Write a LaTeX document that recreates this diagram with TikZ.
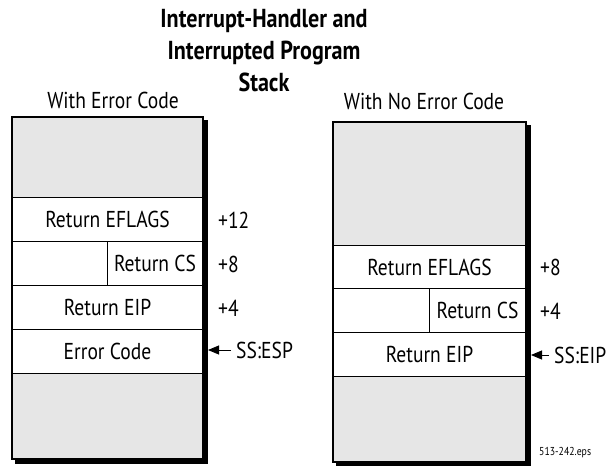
\documentclass[tikz,border=0pt]{standalone}
\usepackage{fontspec}
\setmainfont{PT Sans}[FakeStretch=0.85]
\usetikzlibrary{arrows.meta}
\definecolor{stackgray}{HTML}{E6E6E6}
\tikzset{
  stackframe/.style={draw=black, line width=1.6pt, fill=stackgray, anchor=north west,
    inner sep=0pt, outer sep=0pt},
  shadowline/.style={draw=black, line width=4pt, line cap=rect},
  cell/.style={draw=black, line width=0.8pt, fill=white, anchor=north west,
    inner sep=0pt, outer sep=0pt, minimum height=44pt, font=\fontsize{23}{26}\selectfont},
  lbl/.style={anchor=west, inner sep=0pt, font=\fontsize{23}{26}\selectfont},
  hdr/.style={inner sep=0pt, font=\fontsize{23}{26}\selectfont},
  ptr/.style={line width=0.9pt, -{Triangle[length=11pt,width=9pt]}},
}
\begin{document}
\begin{tikzpicture}[x=1pt,y=-1pt]
\useasboundingbox (0,0) rectangle (616,466);
% title
\node[align=center, inner sep=0pt, font=\bfseries\fontsize{26}{32}\selectfont] (title) at (264,51)
  {Interrupt-Handler and\\Interrupted Program\\Stack};
\node[hdr] (hl) at (113,100) {With Error Code};
\node[hdr] (hr) at (424,101) {With No Error Code};
% left stack
\node[stackframe, minimum width=191pt, minimum height=342pt] (L) at (12,117) {};
\node[cell, minimum width=191pt] (lefl) at (12,197) {Return EFLAGS};
\node[cell, minimum width=95pt] (lcsp) at (12,241) {};
\node[cell, minimum width=96pt] (lcs) at (107,241) {Return CS};
\node[cell, minimum width=191pt] (leip) at (12,285) {Return EIP};
\node[cell, minimum width=191pt] (lerr) at (12,329) {Error Code};
\draw[line width=1.6pt] (L.north west) rectangle (L.south east);
\draw[shadowline] ([xshift=2.6pt,yshift=-5pt]L.north east) -- ([xshift=2.6pt,yshift=-2.6pt]L.south east)
  -- ([xshift=5pt,yshift=-2.6pt]L.south west);
\node[lbl] (l12) at (218,220) {+12};
\node[lbl] (l8) at (218,264) {+8};
\node[lbl] (l4) at (218,308) {+4};
\node[lbl] (lesp) at (236,350) {SS:ESP};
\coordinate (ltip) at (208,350);
\draw[ptr] ([xshift=-5pt]lesp.west) -- (ltip);
% right stack
\node[stackframe, minimum width=193pt, minimum height=340pt] (R) at (333,122) {};
\node[cell, minimum width=193pt] (refl) at (333,245) {Return EFLAGS};
\node[cell, minimum width=96pt] (rcsp) at (333,288) {};
\node[cell, minimum width=97pt] (rcs) at (429,288) {Return CS};
\node[cell, minimum width=193pt] (reip) at (333,332) {Return EIP};
\draw[line width=1.6pt] (R.north west) rectangle (R.south east);
\draw[shadowline] ([xshift=2.6pt,yshift=-5pt]R.north east) -- ([xshift=2.6pt,yshift=-2.6pt]R.south east)
  -- ([xshift=5pt,yshift=-2.6pt]R.south west);
\node[lbl] (r8) at (540,267) {+8};
\node[lbl] (r4) at (540,311) {+4};
\node[lbl] (reip2) at (554,355) {SS:EIP};
\coordinate (rtip) at (531,355);
\draw[ptr] ([xshift=-5pt]reip2.west) -- (rtip);
\node[anchor=west, inner sep=0pt, font=\fontsize{11.5}{13}\selectfont] (eps) at (539,453) {513-242.eps};
\end{tikzpicture}
\end{document}
